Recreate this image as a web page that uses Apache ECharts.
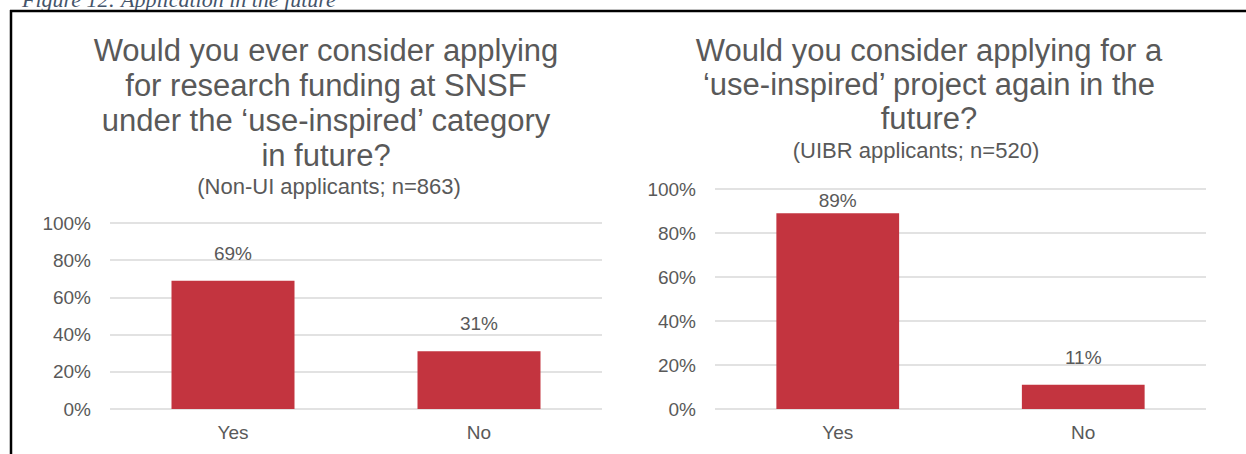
<!DOCTYPE html>
<html>
<head>
<meta charset="utf-8">
<script src="https://cdn.jsdelivr.net/npm/echarts@6/dist/echarts.min.js"></script>
<style>
html,body{margin:0;padding:0;background:#fff;}
#c{width:1246px;height:454px;}
</style>
</head>
<body>
<div id="c"></div>
<script>
const caption = 'Figure 12: Application in the future';
const categories = ['Yes', 'No'];
const leftTitle = 'Would you ever consider applying\nfor research funding at SNSF\nunder the \u2018use-inspired\u2019 category\nin future?';
const leftSubtitle = '(Non-UI applicants; n=863)';
const leftValues = [69, 31];
const rightTitle = 'Would you consider applying for a\n\u2018use-inspired\u2019 project again in the\nfuture?';
const rightSubtitle = '(UIBR applicants; n=520)';
const rightValues = [89, 11];
const yTicks = [0, 20, 40, 60, 80, 100];

const FONT = 'Liberation Sans, Arial, sans-serif';
const TXT = '#595959';
const BAR = '#c3343f';

function yAxis(idx) {
  return {
    gridIndex: idx, type: 'value', min: yTicks[0], max: yTicks[yTicks.length - 1], interval: yTicks[1] - yTicks[0],
    axisLine: {show: false}, axisTick: {show: false},
    splitLine: {lineStyle: {color: '#d9d9d9', width: 1.5}},
    axisLabel: {formatter: v => v + '%', color: TXT, fontSize: 19, fontFamily: FONT, margin: 19}
  };
}
function xAxis(idx) {
  return {
    gridIndex: idx, type: 'category', data: categories,
    axisLine: {show: false}, axisTick: {show: false},
    axisLabel: {color: TXT, fontSize: 19, fontFamily: FONT, margin: 14}
  };
}
function series(idx, values, distances) {
  return {
    type: 'bar', xAxisIndex: idx, yAxisIndex: idx, barWidth: '50%',
    itemStyle: {color: BAR},
    data: values.map((v, i) => ({value: v, label: {distance: distances[i]}})),
    label: {show: true, position: 'top', formatter: p => p.value + '%', color: TXT, fontSize: 19, fontFamily: FONT}
  };
}

const chart = echarts.init(document.getElementById('c'), null, {renderer: 'svg'});
chart.setOption({
  animation: false,
  title: [
    {text: leftTitle, left: 326, top: 33, textAlign: 'center', padding: 0,
     textStyle: {color: TXT, fontSize: 31, fontWeight: 'normal', fontFamily: FONT, lineHeight: 35}},
    {text: leftSubtitle, left: 329, top: 175, textAlign: 'center', padding: 0,
     textStyle: {color: TXT, fontSize: 22, fontWeight: 'normal', fontFamily: FONT, lineHeight: 22}},
    {text: rightTitle, left: 929, top: 33, textAlign: 'center', padding: 0,
     textStyle: {color: TXT, fontSize: 31, fontWeight: 'normal', fontFamily: FONT, lineHeight: 34}},
    {text: rightSubtitle, left: 916, top: 139, textAlign: 'center', padding: 0,
     textStyle: {color: TXT, fontSize: 22, fontWeight: 'normal', fontFamily: FONT, lineHeight: 22}}
  ],
  grid: [
    {left: 110, right: 644, top: 223, bottom: 45},
    {left: 715, right: 40, top: 189, bottom: 45}
  ],
  xAxis: [xAxis(0), xAxis(1)],
  yAxis: [yAxis(0), yAxis(1)],
  series: [series(0, leftValues, [18, 18]), series(1, rightValues, [3, 18])],
  graphic: [
    {type: 'text', left: 22, top: -12, silent: true,
     style: {text: caption, fill: '#44546a', font: 'italic 22px "Liberation Serif", serif'}},
    {type: 'line', silent: true, shape: {x1: 10, y1: 11, x2: 1246, y2: 11}, style: {stroke: '#000', lineWidth: 2.5}},
    {type: 'line', silent: true, shape: {x1: 11, y1: 10, x2: 11, y2: 454}, style: {stroke: '#000', lineWidth: 2.5}}
  ]
});
</script>
</body>
</html>
